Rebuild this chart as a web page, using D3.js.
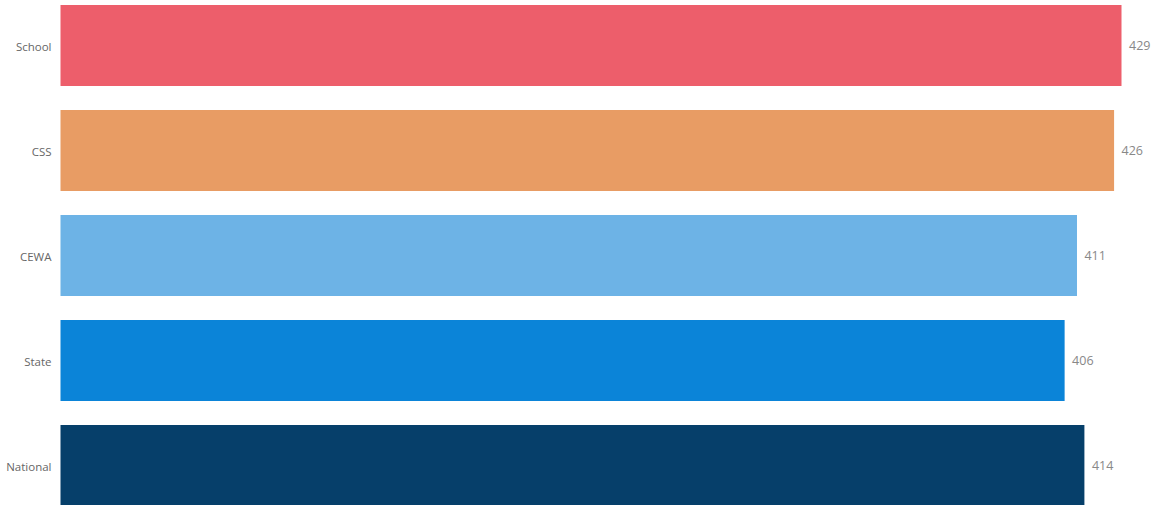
<!DOCTYPE html>
<html><head><meta charset="utf-8">
<script src="https://cdn.jsdelivr.net/npm/d3@7"></script>
<style>html,body{margin:0;padding:0;background:#fff;overflow:hidden}</style>
</head><body>
<svg id="c" width="1156" height="505"></svg>
<script>
const categories = ["School", "CSS", "CEWA", "State", "National"];
const values = [429, 426, 411, 406, 414];
const colors = ["#ED5E6B", "#E89C64", "#6DB3E6", "#0B84D8", "#063F6A"];

const svg = d3.select("#c");
const x = d3.scaleLinear().domain([0, 429]).range([60.5, 1121.5]);
const y = d3.scaleBand().domain(categories).range([0, 511]).paddingInner(0.2286).paddingOuter(0.0476);

svg.selectAll("rect.bar").data(categories).join("rect")
  .attr("class", "bar")
  .attr("x", x(0))
  .attr("y", d => y(d))
  .attr("width", (d, i) => x(values[i]) - x(0))
  .attr("height", y.bandwidth())
  .attr("fill", (d, i) => colors[i]);

const axis = d3.axisLeft(y).tickSize(0).tickPadding(9);
const g = svg.append("g").attr("transform", `translate(${x(0)},1.5)`).call(axis);
g.select(".domain").remove();
g.selectAll("text").attr("font-family", "'Open Sans', 'Noto Sans', sans-serif").attr("font-size", 11.5).attr("fill", "#666");

svg.selectAll("text.val").data(categories).join("text")
  .attr("class", "val")
  .attr("x", (d, i) => x(values[i]) + 7.5)
  .attr("y", d => y(d) + y.bandwidth() / 2)
  .attr("dy", "0.35em")
  .attr("font-family", "'Open Sans', 'Noto Sans', sans-serif")
  .attr("font-size", 12.5)
  .attr("fill", "#888")
  .text((d, i) => values[i]);
</script>
</body></html>
